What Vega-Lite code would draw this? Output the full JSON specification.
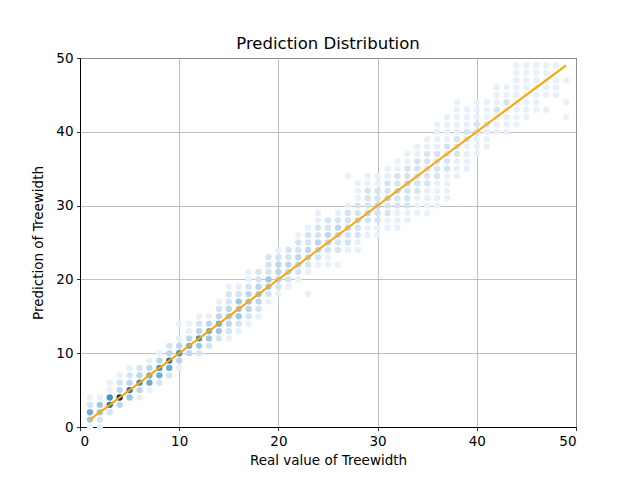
{
  "$schema": "https://vega.github.io/schema/vega-lite/v6.json",
  "width": 496,
  "height": 369,
  "autosize": "none",
  "padding": {"left": 80, "top": 58, "right": 64, "bottom": 53},
  "background": "white",
  "config": {
    "font": "DejaVu Sans",
    "view": {"stroke": "black", "strokeWidth": 1},
    "axis": {
      "grid": true,
      "gridColor": "#b0b0b0",
      "gridWidth": 0.8,
      "domainColor": "black",
      "domainWidth": 1,
      "tickColor": "black",
      "tickSize": 3.5,
      "tickWidth": 0.8,
      "labelFontSize": 13.5,
      "labelColor": "black",
      "labelPadding": 3.5,
      "titleFontSize": 13.5,
      "titleFontWeight": "normal",
      "titleColor": "black",
      "zindex": 1
    }
  },
  "title": {
    "text": "Prediction Distribution",
    "fontSize": 16.5,
    "fontWeight": "normal",
    "color": "black",
    "offset": -1
  },
  "datasets": {
    "pts": [
      {"x":1,"y":0,"c":1},{"x":1,"y":1,"c":4},{"x":1,"y":2,"c":5},{"x":1,"y":3,"c":2},{"x":1,"y":4,"c":1},
      {"x":2,"y":0,"c":1},{"x":2,"y":1,"c":2},{"x":2,"y":2,"c":4},{"x":2,"y":3,"c":4},{"x":2,"y":4,"c":1},
      {"x":3,"y":2,"c":2},{"x":3,"y":3,"c":7},{"x":3,"y":4,"c":6},{"x":3,"y":5,"c":1},{"x":3,"y":6,"c":1},
      {"x":4,"y":3,"c":3},{"x":4,"y":4,"c":8},{"x":4,"y":5,"c":3},{"x":4,"y":6,"c":2},{"x":4,"y":7,"c":1},
      {"x":5,"y":4,"c":4},{"x":5,"y":5,"c":7},{"x":5,"y":6,"c":3},{"x":5,"y":7,"c":2},{"x":5,"y":8,"c":1},
      {"x":6,"y":4,"c":1},{"x":6,"y":5,"c":3},{"x":6,"y":6,"c":6},{"x":6,"y":7,"c":3},{"x":6,"y":8,"c":2},
      {"x":7,"y":5,"c":1},{"x":7,"y":6,"c":5},{"x":7,"y":7,"c":5},{"x":7,"y":8,"c":3},{"x":7,"y":9,"c":1},
      {"x":8,"y":6,"c":2},{"x":8,"y":7,"c":5},{"x":8,"y":8,"c":6},{"x":8,"y":9,"c":3},{"x":8,"y":10,"c":1},
      {"x":9,"y":7,"c":2},{"x":9,"y":8,"c":5},{"x":9,"y":9,"c":7},{"x":9,"y":10,"c":3},{"x":9,"y":11,"c":2},
      {"x":10,"y":8,"c":1},{"x":10,"y":9,"c":3},{"x":10,"y":10,"c":6},{"x":10,"y":11,"c":3},{"x":10,"y":12,"c":1},{"x":10,"y":14,"c":1},
      {"x":11,"y":10,"c":3},{"x":11,"y":11,"c":5},{"x":11,"y":12,"c":3},{"x":11,"y":13,"c":1},{"x":11,"y":14,"c":1},
      {"x":12,"y":10,"c":2},{"x":12,"y":11,"c":4},{"x":12,"y":12,"c":6},{"x":12,"y":13,"c":3},{"x":12,"y":14,"c":2},{"x":12,"y":15,"c":1},
      {"x":13,"y":11,"c":2},{"x":13,"y":12,"c":4},{"x":13,"y":13,"c":5},{"x":13,"y":14,"c":3},{"x":13,"y":15,"c":1},
      {"x":14,"y":12,"c":2},{"x":14,"y":13,"c":4},{"x":14,"y":14,"c":5},{"x":14,"y":15,"c":3},{"x":14,"y":16,"c":2},{"x":14,"y":17,"c":1},
      {"x":15,"y":12,"c":1},{"x":15,"y":13,"c":2},{"x":15,"y":14,"c":3},{"x":15,"y":15,"c":4},{"x":15,"y":16,"c":3},{"x":15,"y":17,"c":2},{"x":15,"y":18,"c":2},{"x":15,"y":19,"c":1},
      {"x":16,"y":13,"c":1},{"x":16,"y":14,"c":2},{"x":16,"y":15,"c":4},{"x":16,"y":16,"c":4},{"x":16,"y":17,"c":4},{"x":16,"y":18,"c":2},{"x":16,"y":19,"c":1},
      {"x":17,"y":14,"c":1},{"x":17,"y":15,"c":2},{"x":17,"y":16,"c":3},{"x":17,"y":17,"c":4},{"x":17,"y":18,"c":3},{"x":17,"y":19,"c":2},{"x":17,"y":20,"c":1},{"x":17,"y":21,"c":1},
      {"x":18,"y":15,"c":1},{"x":18,"y":16,"c":2},{"x":18,"y":17,"c":3},{"x":18,"y":18,"c":4},{"x":18,"y":19,"c":3},{"x":18,"y":20,"c":2},{"x":18,"y":21,"c":2},
      {"x":19,"y":17,"c":1},{"x":19,"y":18,"c":2},{"x":19,"y":19,"c":4},{"x":19,"y":20,"c":4},{"x":19,"y":21,"c":2},{"x":19,"y":22,"c":2},{"x":19,"y":23,"c":2},
      {"x":20,"y":18,"c":1},{"x":20,"y":19,"c":2},{"x":20,"y":20,"c":3},{"x":20,"y":21,"c":3},{"x":20,"y":22,"c":3},{"x":20,"y":23,"c":2},{"x":20,"y":24,"c":1},
      {"x":21,"y":19,"c":1},{"x":21,"y":20,"c":2},{"x":21,"y":21,"c":3},{"x":21,"y":22,"c":3},{"x":21,"y":23,"c":2},{"x":21,"y":24,"c":2},
      {"x":22,"y":20,"c":1},{"x":22,"y":21,"c":2},{"x":22,"y":22,"c":3},{"x":22,"y":23,"c":3},{"x":22,"y":24,"c":2},{"x":22,"y":25,"c":2},{"x":22,"y":26,"c":1},
      {"x":23,"y":18,"c":1},{"x":23,"y":21,"c":1},{"x":23,"y":22,"c":2},{"x":23,"y":23,"c":3},{"x":23,"y":24,"c":3},{"x":23,"y":25,"c":2},{"x":23,"y":26,"c":2},{"x":23,"y":27,"c":1},
      {"x":24,"y":22,"c":1},{"x":24,"y":23,"c":2},{"x":24,"y":24,"c":3},{"x":24,"y":25,"c":3},{"x":24,"y":26,"c":2},{"x":24,"y":27,"c":2},{"x":24,"y":28,"c":1},{"x":24,"y":29,"c":1},
      {"x":25,"y":22,"c":1},{"x":25,"y":23,"c":1},{"x":25,"y":24,"c":2},{"x":25,"y":25,"c":3},{"x":25,"y":26,"c":3},{"x":25,"y":27,"c":2},{"x":25,"y":28,"c":2},
      {"x":26,"y":22,"c":1},{"x":26,"y":24,"c":2},{"x":26,"y":25,"c":2},{"x":26,"y":26,"c":3},{"x":26,"y":27,"c":3},{"x":26,"y":28,"c":2},{"x":26,"y":29,"c":1},
      {"x":27,"y":24,"c":1},{"x":27,"y":25,"c":2},{"x":27,"y":26,"c":2},{"x":27,"y":27,"c":3},{"x":27,"y":28,"c":2},{"x":27,"y":29,"c":2},{"x":27,"y":30,"c":1},{"x":27,"y":34,"c":1},
      {"x":28,"y":24,"c":1},{"x":28,"y":25,"c":1},{"x":28,"y":26,"c":2},{"x":28,"y":27,"c":2},{"x":28,"y":28,"c":3},{"x":28,"y":29,"c":2},{"x":28,"y":30,"c":2},{"x":28,"y":31,"c":1},{"x":28,"y":32,"c":1},{"x":28,"y":33,"c":1},
      {"x":29,"y":26,"c":1},{"x":29,"y":27,"c":1},{"x":29,"y":28,"c":2},{"x":29,"y":29,"c":3},{"x":29,"y":30,"c":2},{"x":29,"y":31,"c":2},{"x":29,"y":32,"c":2},{"x":29,"y":33,"c":1},{"x":29,"y":34,"c":1},
      {"x":30,"y":26,"c":1},{"x":30,"y":27,"c":1},{"x":30,"y":28,"c":2},{"x":30,"y":29,"c":2},{"x":30,"y":30,"c":3},{"x":30,"y":31,"c":2},{"x":30,"y":32,"c":2},{"x":30,"y":33,"c":1},{"x":30,"y":34,"c":1},
      {"x":31,"y":27,"c":1},{"x":31,"y":28,"c":1},{"x":31,"y":29,"c":2},{"x":31,"y":30,"c":2},{"x":31,"y":31,"c":3},{"x":31,"y":32,"c":2},{"x":31,"y":33,"c":2},{"x":31,"y":34,"c":1},{"x":31,"y":35,"c":1},
      {"x":32,"y":27,"c":1},{"x":32,"y":28,"c":1},{"x":32,"y":29,"c":1},{"x":32,"y":30,"c":2},{"x":32,"y":31,"c":2},{"x":32,"y":32,"c":3},{"x":32,"y":33,"c":2},{"x":32,"y":34,"c":2},{"x":32,"y":35,"c":1},{"x":32,"y":36,"c":1},
      {"x":33,"y":28,"c":1},{"x":33,"y":29,"c":1},{"x":33,"y":30,"c":2},{"x":33,"y":31,"c":2},{"x":33,"y":32,"c":2},{"x":33,"y":33,"c":3},{"x":33,"y":34,"c":2},{"x":33,"y":35,"c":2},{"x":33,"y":36,"c":1},{"x":33,"y":37,"c":1},
      {"x":34,"y":29,"c":1},{"x":34,"y":30,"c":1},{"x":34,"y":31,"c":1},{"x":34,"y":32,"c":2},{"x":34,"y":33,"c":2},{"x":34,"y":34,"c":2},{"x":34,"y":35,"c":2},{"x":34,"y":36,"c":2},{"x":34,"y":37,"c":1},{"x":34,"y":38,"c":1},
      {"x":35,"y":29,"c":1},{"x":35,"y":30,"c":1},{"x":35,"y":31,"c":1},{"x":35,"y":32,"c":1},{"x":35,"y":33,"c":2},{"x":35,"y":34,"c":2},{"x":35,"y":35,"c":2},{"x":35,"y":36,"c":2},{"x":35,"y":37,"c":2},{"x":35,"y":38,"c":1},{"x":35,"y":39,"c":1},
      {"x":36,"y":30,"c":1},{"x":36,"y":31,"c":1},{"x":36,"y":32,"c":1},{"x":36,"y":33,"c":1},{"x":36,"y":34,"c":2},{"x":36,"y":35,"c":2},{"x":36,"y":36,"c":2},{"x":36,"y":37,"c":2},{"x":36,"y":38,"c":1},{"x":36,"y":39,"c":1},{"x":36,"y":40,"c":1},{"x":36,"y":41,"c":1},
      {"x":37,"y":31,"c":1},{"x":37,"y":32,"c":1},{"x":37,"y":33,"c":1},{"x":37,"y":34,"c":1},{"x":37,"y":35,"c":2},{"x":37,"y":36,"c":2},{"x":37,"y":37,"c":2},{"x":37,"y":38,"c":2},{"x":37,"y":39,"c":1},{"x":37,"y":40,"c":1},{"x":37,"y":41,"c":1},{"x":37,"y":42,"c":1},
      {"x":38,"y":34,"c":1},{"x":38,"y":35,"c":1},{"x":38,"y":36,"c":1},{"x":38,"y":37,"c":2},{"x":38,"y":38,"c":2},{"x":38,"y":39,"c":2},{"x":38,"y":40,"c":1},{"x":38,"y":41,"c":1},{"x":38,"y":42,"c":1},{"x":38,"y":43,"c":1},{"x":38,"y":44,"c":1},
      {"x":39,"y":35,"c":1},{"x":39,"y":36,"c":1},{"x":39,"y":37,"c":1},{"x":39,"y":38,"c":1},{"x":39,"y":39,"c":2},{"x":39,"y":40,"c":2},{"x":39,"y":41,"c":1},{"x":39,"y":42,"c":1},{"x":39,"y":43,"c":1},
      {"x":40,"y":37,"c":1},{"x":40,"y":38,"c":1},{"x":40,"y":39,"c":1},{"x":40,"y":40,"c":2},{"x":40,"y":41,"c":2},{"x":40,"y":42,"c":1},{"x":40,"y":43,"c":1},{"x":40,"y":44,"c":1},
      {"x":41,"y":38,"c":1},{"x":41,"y":39,"c":1},{"x":41,"y":40,"c":1},{"x":41,"y":41,"c":2},{"x":41,"y":42,"c":1},{"x":41,"y":43,"c":1},{"x":41,"y":44,"c":1},
      {"x":42,"y":40,"c":1},{"x":42,"y":41,"c":1},{"x":42,"y":42,"c":1},{"x":42,"y":43,"c":2},{"x":42,"y":44,"c":1},{"x":42,"y":45,"c":1},{"x":42,"y":46,"c":1},
      {"x":43,"y":40,"c":1},{"x":43,"y":41,"c":1},{"x":43,"y":42,"c":1},{"x":43,"y":43,"c":1},{"x":43,"y":44,"c":2},{"x":43,"y":45,"c":1},{"x":43,"y":46,"c":1},
      {"x":44,"y":41,"c":1},{"x":44,"y":42,"c":1},{"x":44,"y":43,"c":1},{"x":44,"y":44,"c":1},{"x":44,"y":45,"c":1},{"x":44,"y":46,"c":1},{"x":44,"y":47,"c":1},{"x":44,"y":48,"c":1},{"x":44,"y":49,"c":1},
      {"x":45,"y":42,"c":1},{"x":45,"y":43,"c":1},{"x":45,"y":44,"c":1},{"x":45,"y":45,"c":1},{"x":45,"y":46,"c":1},{"x":45,"y":47,"c":1},{"x":45,"y":48,"c":1},{"x":45,"y":49,"c":1},
      {"x":46,"y":43,"c":1},{"x":46,"y":44,"c":1},{"x":46,"y":45,"c":1},{"x":46,"y":46,"c":1},{"x":46,"y":47,"c":1},{"x":46,"y":48,"c":1},{"x":46,"y":49,"c":1},
      {"x":47,"y":43,"c":1},{"x":47,"y":45,"c":1},{"x":47,"y":46,"c":1},{"x":47,"y":47,"c":1},{"x":47,"y":48,"c":1},{"x":47,"y":49,"c":1},
      {"x":48,"y":45,"c":1},{"x":48,"y":46,"c":1},{"x":48,"y":47,"c":1},{"x":48,"y":49,"c":1},
      {"x":49,"y":42,"c":1},{"x":49,"y":44,"c":1},{"x":49,"y":47,"c":1}
    ],
    "diag": [
      {"x": 1, "y": 1},
      {"x": 49, "y": 49}
    ]
  },
  "layer": [
    {
      "data": {"name": "pts"},
      "mark": {"type": "circle", "size": 40, "opacity": 1},
      "encoding": {
        "x": {
          "field": "x",
          "type": "quantitative",
          "title": "Real value of Treewidth",
          "scale": {"domain": [0, 50], "nice": false},
          "axis": {"values": [0, 10, 20, 30, 40, 50], "titlePadding": 6}
        },
        "y": {
          "field": "y",
          "type": "quantitative",
          "title": "Prediction of Treewidth",
          "scale": {"domain": [0, 50], "nice": false},
          "axis": {"values": [0, 10, 20, 30, 40, 50], "titlePadding": 10}
        },
        "color": {
          "field": "c",
          "type": "quantitative",
          "scale": {
            "domain": [1, 2, 3, 4, 5, 6, 7, 8],
            "range": ["#e8f1fa", "#d3e4f3", "#bcd6ed", "#9ecae1", "#6baed6", "#4292c6", "#2171b5", "#08306b"]
          },
          "legend": null
        }
      }
    },
    {
      "data": {"name": "diag"},
      "mark": {"type": "line", "color": "#ffa500", "strokeWidth": 2},
      "encoding": {
        "x": {"field": "x", "type": "quantitative"},
        "y": {"field": "y", "type": "quantitative"}
      }
    }
  ]
}
